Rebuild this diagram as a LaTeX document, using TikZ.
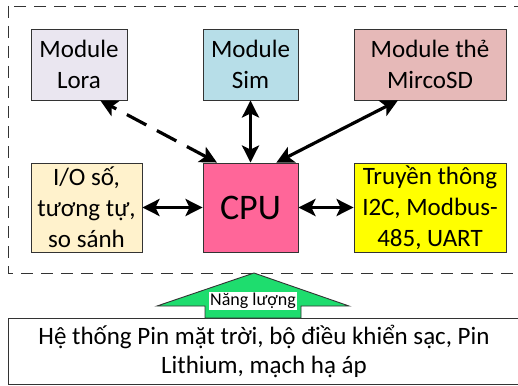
\documentclass[tikz,border=0pt]{standalone}
\usepackage{fontspec}
\setmainfont{Carlito}
\usetikzlibrary{arrows.meta,calc}
\definecolor{cLora}{HTML}{EAE6F0}
\definecolor{cSim}{HTML}{B7DEE8}
\definecolor{cSD}{HTML}{E6B9B8}
\definecolor{cIO}{HTML}{FFF2CC}
\definecolor{cCPU}{HTML}{FF6699}
\definecolor{cCom}{HTML}{FFFF00}
\definecolor{cGreen}{HTML}{1EDD6E}
\definecolor{cEdge}{HTML}{333333}
\tikzset{
  blk/.style={draw=cEdge, line width=0.9pt, inner sep=0pt, align=center,
    font=\fontsize{25}{31}\selectfont},
  link/.style={line width=3.2pt, {Stealth[length=17pt,width=17pt,inset=4pt]}-{Stealth[length=17pt,width=17pt,inset=4pt]}},
}
\begin{document}
\begin{tikzpicture}[x=1pt,y=-1pt]
\useasboundingbox (0,0) rectangle (518,385);
\clip (0,0) rectangle (518,385);
\fill[white] (0,0) rectangle (518,385);
% dashed frame
\draw[cEdge, line width=0.9pt, dash pattern=on 12pt off 8pt] (8,6) rectangle (530,273);
% boxes
\node[blk, fill=cLora, minimum width=96pt, minimum height=71pt] (lora) at (79,64.5) {Module\\Lora};
\node[blk, fill=cSim, minimum width=95pt, minimum height=71pt] (sim) at (250.5,64.5) {Module\\Sim};
\node[blk, fill=cSD, minimum width=152pt, minimum height=71pt] (sd) at (430,64.5) {Module thẻ\\MircoSD};
\node[blk, fill=cIO, minimum width=111pt, minimum height=89pt] (io) at (86.5,207.5) {I/O số,\\tương tự,\\so sánh};
\node[blk, fill=cCPU, minimum width=95pt, minimum height=89pt, font=\fontsize{36}{40}\selectfont] (cpu) at (250.5,207.5) {CPU};
\node[blk, fill=cCom, minimum width=152pt, minimum height=89pt] (com) at (430,207.5) {Truyền thông\\I2C, Modbus-\\485, UART};
% connectors
\draw[link, dash pattern=on 22pt off 12pt] ($(cpu.north west)!0.15!(cpu.north east)$) -- ($(lora.south west)!0.72!(lora.south east)$);
\draw[link] (cpu.north) -- (sim.south);
\draw[link] ($(cpu.north west)!0.77!(cpu.north east)$) -- ($(sd.south west)!0.29!(sd.south east)$);
\draw[link] (io.east) -- (cpu.west);
\draw[link] (cpu.east) -- (com.west);
% power source box
\node[blk, minimum width=530pt, minimum height=66pt, anchor=north west] (pwr) at (8,318) {};
\node[align=center, font=\fontsize{25}{29}\selectfont, inner sep=0pt] (pwrtxt) at (264,351) {Hệ thống Pin mặt trời, bộ điều khiển sạc, Pin\\Lithium, mạch hạ áp};
% green arrow
\draw[cEdge, line width=0.9pt, fill=cGreen] (157,306) -- (254,273) -- (349,306) -- (301,306) -- (301,318) -- (205,318) -- (205,306) -- cycle;
\node[fill=white, inner sep=1pt, font=\fontsize{18}{21}\selectfont] (nl) at (253,301) {Năng lượng};
\end{tikzpicture}
\end{document}
